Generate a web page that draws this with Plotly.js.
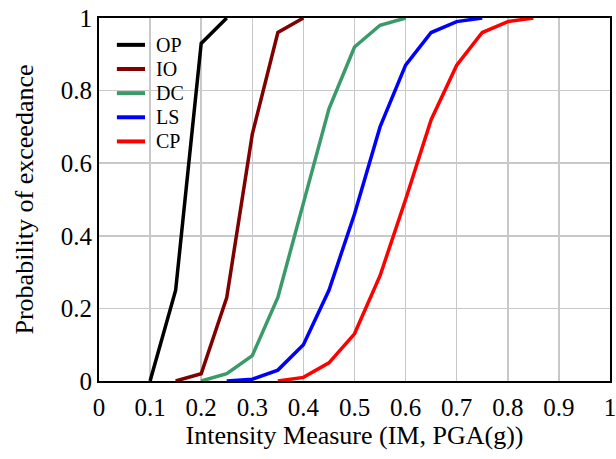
<!DOCTYPE html>
<html>
<head>
<meta charset="utf-8">
<script src="https://cdn.plot.ly/plotly-3.0.1.min.js"></script>
<style>html,body{margin:0;padding:0;background:#fff;}#chart{width:616px;height:459px;}</style>
</head>
<body>
<div id="chart"></div>
<script>
const names = ["OP", "IO", "DC", "LS", "CP"];
const colors = ["#000000", "#800000", "#3a9a6a", "#0000ff", "#ff0000"];
const opX = [0.1, 0.15, 0.2, 0.25];
const opY = [0, 0.25, 0.93, 1];
const ioX = [0.15, 0.2, 0.25, 0.3, 0.35, 0.4];
const ioY = [0, 0.02, 0.23, 0.68, 0.96, 1];
const dcX = [0.2, 0.25, 0.3, 0.35, 0.4, 0.45, 0.5, 0.55, 0.6];
const dcY = [0, 0.02, 0.07, 0.23, 0.49, 0.75, 0.92, 0.98, 1];
const lsX = [0.25, 0.3, 0.35, 0.4, 0.45, 0.5, 0.55, 0.6, 0.65, 0.7, 0.75];
const lsY = [0, 0.005, 0.03, 0.1, 0.25, 0.46, 0.7, 0.87, 0.96, 0.99, 1];
const cpX = [0.35, 0.4, 0.45, 0.5, 0.55, 0.6, 0.65, 0.7, 0.75, 0.8, 0.85];
const cpY = [0, 0.01, 0.05, 0.13, 0.29, 0.5, 0.72, 0.87, 0.96, 0.99, 1];
const xTicks = [0, 0.1, 0.2, 0.3, 0.4, 0.5, 0.6, 0.7, 0.8, 0.9, 1];
const xTickText = ["0", "0.1", "0.2", "0.3", "0.4", "0.5", "0.6", "0.7", "0.8", "0.9", "1"];
const yTicks = [0, 0.2, 0.4, 0.6, 0.8, 1];
const yTickText = ["0", "0.2", "0.4", "0.6", "0.8", "1"];

const xs = [opX, ioX, dcX, lsX, cpX];
const ys = [opY, ioY, dcY, lsY, cpY];
const traces = names.map((n, i) => ({
  x: xs[i], y: ys[i], name: n, type: "scatter", mode: "lines",
  line: {color: colors[i], width: 3.5}
}));
const serif = "Liberation Serif, Times New Roman, serif";
const font = {family: serif, color: "#000"};

// custom legend placed inside the plot area (paper coordinates)
const legTop = 0.926, legStep = 0.0665;
const shapes = [], annotations = [];
names.forEach((n, i) => {
  const yy = legTop - i * legStep;
  shapes.push({type: "line", xref: "paper", yref: "paper", x0: 0.035, x1: 0.090, y0: yy, y1: yy,
               line: {color: colors[i], width: 4}});
  annotations.push({xref: "paper", yref: "paper", x: 0.108, y: yy, xanchor: "left", yanchor: "middle",
                    text: n, showarrow: false, font: {family: serif, size: 20, color: "#000"}});
});

const layout = {
  width: 616, height: 459,
  margin: {l: 99, r: 6, t: 18, b: 78},
  paper_bgcolor: "#fff", plot_bgcolor: "#fff",
  font: Object.assign({size: 20}, font),
  showlegend: false,
  shapes: shapes, annotations: annotations,
  xaxis: {range: [0, 1], tickvals: xTicks, ticktext: xTickText, showgrid: true,
          gridcolor: "#c8c8c8", gridwidth: 1.5, zeroline: false, showline: true,
          mirror: true, linecolor: "#000", linewidth: 2, ticks: "", ticklabelstandoff: 3,
          ticklabeloverflow: "allow",
          tickfont: Object.assign({size: 25}, font),
          title: {text: "Intensity Measure (IM, PGA(g))", font: Object.assign({size: 26}, font), standoff: 3}},
  yaxis: {range: [0, 1], tickvals: yTicks, ticktext: yTickText, showgrid: true,
          gridcolor: "#c8c8c8", gridwidth: 1.5, zeroline: false, showline: true,
          mirror: true, linecolor: "#000", linewidth: 2, ticks: "",
          ticklabeloverflow: "allow",
          tickfont: Object.assign({size: 25}, font),
          title: {text: "Probability of exceedance", font: Object.assign({size: 26}, font), standoff: 20}}
};
Plotly.newPlot("chart", traces, layout, {displayModeBar: false, staticPlot: true});
</script>
</body>
</html>
